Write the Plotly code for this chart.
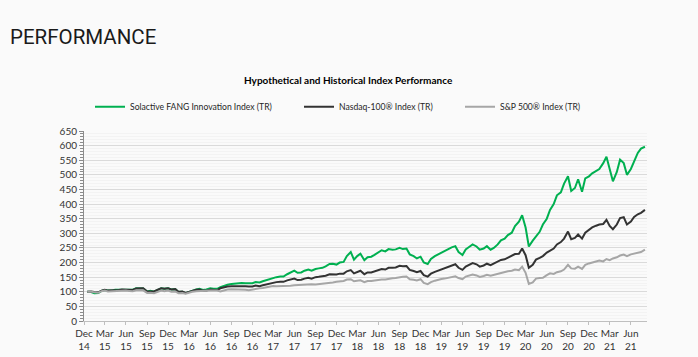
import pandas as pd
import plotly.graph_objects as go

# ---- data (semi-monthly readings, normalised to 100 at Dec 2014) ----
dates = [pd.Timestamp("2014-12-15")] + list(pd.date_range("2015-01-01", "2021-08-01", freq="SMS"))

fang = [100,
    99, 95, 96, 103, 106, 104, 104, 107, 107, 108, 108, 107, 107, 112, 112, 111, 101, 103, 100, 106, 112, 110, 112, 108,
    109, 99, 100, 95, 100, 105, 108, 110, 106, 108, 112, 110, 110, 116, 121, 124, 127, 128, 131, 130, 129, 128, 129, 133,
    132, 136, 140, 145, 149, 150, 152, 152, 160, 165, 172, 165, 166, 172, 176, 172, 178, 180, 182, 187, 195, 196, 193, 200,
    202, 222, 236, 210, 222, 230, 208, 218, 220, 226, 236, 242, 238, 246, 244, 245, 250, 246, 248, 228, 222, 214, 220, 200,
    195, 212, 222, 228, 235, 240, 246, 252, 256, 236, 226, 245, 254, 262, 255, 244, 248, 256, 244, 250, 262, 276, 282, 294,
    302, 325, 340, 362, 320, 255, 275, 290, 305, 330, 350, 380, 400, 430, 440, 470, 495, 445, 455, 485, 442, 488, 495, 505,
    512, 520, 540, 562, 520, 478, 510, 552, 540, 500, 520, 545, 575, 590, 596]

nasdaq = [100,
    101, 99, 98, 104, 107, 104, 104, 106, 106, 108, 108, 107, 106, 111, 111, 112, 101, 102, 101, 106, 112, 110, 112, 108,
    109, 100, 101, 96, 100, 104, 107, 108, 104, 104, 108, 107, 106, 112, 116, 118, 119, 119, 121, 120, 119, 118, 118, 121,
    119, 122, 125, 129, 132, 133, 134, 134, 139, 142, 145, 140, 141, 145, 148, 145, 150, 151, 152, 155, 160, 160, 159, 162,
    162, 170, 174, 163, 167, 172, 160, 166, 166, 170, 174, 178, 176, 182, 182, 183, 189, 187, 188, 175, 171, 167, 171, 157,
    152, 162, 168, 172, 176, 180, 184, 190, 194, 182, 175, 186, 192, 198, 194, 186, 190, 196, 191, 196, 203, 209, 211, 217,
    222, 229, 230, 248, 225, 182, 192, 210, 216, 222, 234, 240, 248, 262, 270, 282, 306, 280, 284, 296, 282, 302, 312, 320,
    326, 330, 332, 346, 325, 314, 330, 352, 355, 330, 340, 356, 365, 370, 380]

sp500 = [100,
    101, 98, 97, 102, 104, 101, 102, 103, 103, 105, 104, 103, 102, 105, 104, 105, 96, 97, 95, 100, 104, 102, 104, 100,
    101, 95, 96, 93, 97, 100, 102, 103, 102, 103, 104, 104, 104, 101, 106, 108, 109, 109, 108, 107, 107, 105, 108, 111,
    112, 113, 115, 119, 120, 119, 119, 119, 121, 121, 122, 123, 124, 124, 125, 126, 125, 126, 127, 129, 131, 132, 134, 135,
    137, 142, 143, 136, 137, 139, 133, 137, 137, 139, 140, 142, 142, 145, 146, 147, 150, 151, 152, 143, 141, 139, 143, 130,
    126, 133, 138, 142, 144, 145, 147, 151, 153, 147, 143, 152, 156, 159, 156, 151, 154, 158, 155, 158, 162, 165, 167, 170,
    172, 176, 174, 186, 165, 127, 132, 145, 147, 148, 157, 163, 161, 167, 170, 176, 192, 180, 179, 186, 178, 192, 197, 200,
    205, 207, 204, 212, 208, 214, 218, 224, 227, 222, 228, 230, 234, 236, 244]

assert len(dates) == len(fang) == len(nasdaq) == len(sp500)

series_names = ["Solactive FANG Innovation Index (TR)", "Nasdaq-100® Index (TR)", "S&P 500® Index (TR)"]
series_values = [fang, nasdaq, sp500]
series_colors = ["#00b050", "#333333", "#a6a6a6"]

tick_dates = list(pd.date_range("2014-12-01", "2021-06-01", freq="3MS"))
tick_labels = [d.strftime("%b") + "<br>" + d.strftime("%y") for d in tick_dates]

FONT = "Lato"

fig = go.Figure()
legend_ids = ["legend", "legend2", "legend3"]
for name, vals, col, lg in zip(series_names, series_values, series_colors, legend_ids):
    fig.add_trace(go.Scatter(x=dates, y=vals, name=name, mode="lines",
                             line=dict(color=col, width=2), legend=lg, showlegend=True))

legend_common = dict(orientation="h", xref="container", yref="container",
                     yanchor="middle", y=1 - 106.7/357, xanchor="left",
                     bgcolor="rgba(0,0,0,0)", font=dict(family=FONT, size=8.6, color="#262626"))
fig.update_layout(
    width=698, height=357,
    showlegend=True,
    paper_bgcolor="#fafafa", plot_bgcolor="#fafafa",
    margin=dict(l=84, r=51, t=131, b=36, autoexpand=False),
    legend=dict(legend_common, x=90/698),
    legend2=dict(legend_common, x=299/698),
    legend3=dict(legend_common, x=460/698),
    xaxis=dict(type="date", range=["2014-12-01", "2021-08-10"],
               tickmode="array", tickvals=tick_dates, ticktext=tick_labels,
               showgrid=False, showline=True, linecolor="#bfbfbf", linewidth=1,
               ticks="outside", ticklen=3, tickcolor="#bfbfbf",
               tickfont=dict(family=FONT, size=10, color="#333333"), zeroline=False),
    yaxis=dict(range=[0, 650], dtick=50, tick0=0,
               showgrid=True, gridcolor="#dadada", gridwidth=1,
               showline=True, linecolor="#8c8c8c", linewidth=1,
               ticks="outside", ticklen=4, tickcolor="#8c8c8c",
               tickfont=dict(family=FONT, size=10, color="#333333"), zeroline=False,
               minor=dict(dtick=10, ticks="outside", ticklen=3, tickcolor="#8c8c8c",
                          showgrid=True, gridcolor="#f3f3f3", gridwidth=1)),
    annotations=[
        dict(text="PERFORMANCE", xref="paper", yref="paper",
             x=(8 - 84) / 563, y=1 + (131 - 37) / 190,
             xanchor="left", yanchor="middle", showarrow=False,
             font=dict(family="Roboto", size=20.5, color="#1a1a1a")),
        dict(text="<b>Hypothetical and Historical Index Performance</b>",
             xref="paper", yref="paper", x=0.4705, y=1.268,
             xanchor="center", yanchor="middle", showarrow=False,
             font=dict(family=FONT, size=10, color="#000000")),
    ],
)

fig.write_html("out.html", config={"displayModeBar": False},
               post_script="document.body.style.margin='0';document.body.style.background='#fafafa';")
